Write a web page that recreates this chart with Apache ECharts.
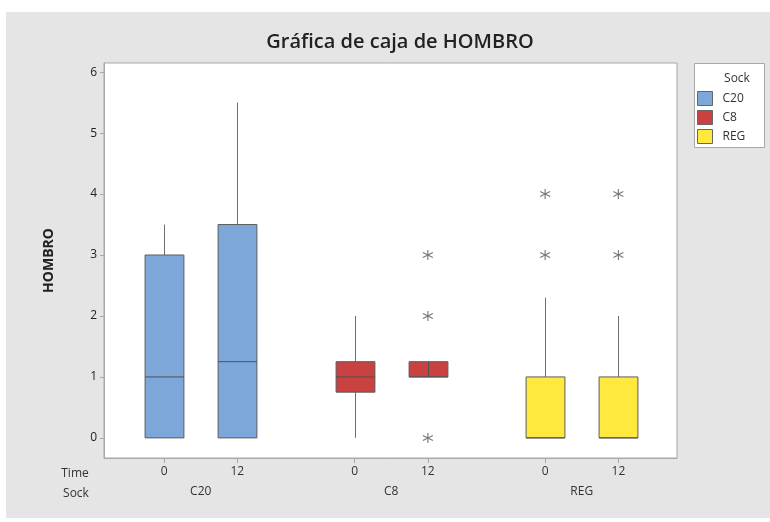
<!DOCTYPE html>
<html>
<head>
<meta charset="utf-8">
<title>Gráfica de caja de HOMBRO</title>
<script src="https://cdn.jsdelivr.net/npm/echarts@6/dist/echarts.min.js"></script>
<style>
  html, body { margin: 0; padding: 0; background: #fff; }
  #chart { width: 770px; height: 522px; }
</style>
</head>
<body>
<div id="chart"></div>
<script>
// datos
const socks = ["C20", "C8", "REG"];
const sockColors = ["#7da7d9", "#c94141", "#ffe93f"];
const timeLabels = ["0", "12", "0", "12", "0", "12"];
// posición de cada caja en el eje x (dos tiempos por grupo, hueco entre grupos)
const timePos = [0, 1, 2.6, 3.6, 5.2, 6.2];
const sockCenters = [0.5, 3.1, 5.7];
const yTicks = [0, 1, 2, 3, 4, 5, 6];

// [mín, Q1, mediana, Q3, máx] por tiempo (0, 12)
const c20Stats = [[0, 0, 1, 3, 3.5], [0, 0, 1.25, 3.5, 5.5]];
const c8Stats = [[0, 0.75, 1, 1.25, 2], [1, 1, 1, 1.25, 1.25]];
const regStats = [[0, 0, 0, 1, 2.3], [0, 0, 0, 1, 2]];
// valores atípicos por tiempo
const c20Outliers = [[], []];
const c8Outliers = [[], [0, 2, 3]];
const regOutliers = [[3, 4], [3, 4]];

const allStats = [c20Stats, c8Stats, regStats];
const allOutliers = [c20Outliers, c8Outliers, regOutliers];

const font = "'Open Sans', 'Noto Sans', sans-serif";
const boxWidth = 0.53;

const chart = echarts.init(document.getElementById("chart"));

// dibuja caja + bigotes
const renderBox = (params, api) => {
  const x = api.value(0);
  const lo = api.coord([x, api.value(1)]);
  const q1 = api.coord([x, api.value(2)]);
  const md = api.coord([x, api.value(3)]);
  const q3 = api.coord([x, api.value(4)]);
  const hi = api.coord([x, api.value(5)]);
  const w = api.size([boxWidth, 0])[0];
  const cx = Math.round(lo[0]) + 0.5;
  const line = (x1, y1, x2, y2, color) => ({
    type: "line",
    shape: { x1, y1, x2, y2 },
    style: { stroke: color, lineWidth: 1 },
  });
  const children = [
    line(cx, lo[1], cx, q1[1], "#6e6e6e"),
    line(cx, q3[1], cx, hi[1], "#6e6e6e"),
    {
      type: "rect",
      shape: { x: cx - w / 2, y: q3[1], width: w, height: q1[1] - q3[1] },
      style: { fill: api.visual("color"), stroke: "#5c5c5c", lineWidth: 1 },
    },
    line(cx - w / 2, md[1], cx + w / 2, md[1], "#505050"),
  ];
  // sin bigotes: Minitab dibuja la línea a través de la caja
  if (api.value(1) === api.value(2) && api.value(4) === api.value(5)) {
    children.push(line(cx, q3[1], cx, q1[1], "#505050"));
  }
  return { type: "group", children };
};

const boxSeries = socks.map((name, s) => ({
  name,
  type: "custom",
  renderItem: renderBox,
  itemStyle: { color: sockColors[s] },
  encode: { x: 0, y: [1, 2, 3, 4, 5] },
  data: allStats[s].map((st, t) => [timePos[s * 2 + t], ...st]),
  z: 3,
}));

const outlierData = [];
allOutliers.forEach((group, s) => {
  group.forEach((vals, t) => {
    vals.forEach((v) => outlierData.push([timePos[s * 2 + t], v]));
  });
});

const option = {
  animation: false,
  textStyle: { fontFamily: font },
  graphic: [
    {
      type: "rect",
      z: -10,
      shape: { x: 6, y: 12, width: 764, height: 506 },
      style: { fill: "#e5e5e5" },
    },
    {
      type: "rect",
      shape: { x: 694.5, y: 63.5, width: 70, height: 84 },
      style: { fill: "#fff", stroke: "#a8a8a8", lineWidth: 1 },
    },
    {
      type: "text",
      x: 737, y: 79,
      style: { text: "Sock", fill: "#333", font: "12px " + font, align: "center", verticalAlign: "middle" },
    },
    {
      type: "text",
      x: 75, y: 474,
      style: { text: "Time", fill: "#333", font: "12px " + font, align: "center", verticalAlign: "middle" },
    },
    {
      type: "text",
      x: 76, y: 494,
      style: { text: "Sock", fill: "#333", font: "12px " + font, align: "center", verticalAlign: "middle" },
    },
  ],
  title: {
    text: "Gráfica de caja de HOMBRO",
    left: 395,
    top: 27,
    textAlign: "center",
    textStyle: { fontSize: 20, fontWeight: 600, color: "#222", fontFamily: font },
  },
  legend: {
    data: socks,
    orient: "vertical",
    left: 697,
    top: 91,
    padding: 0,
    icon: "rect",
    itemWidth: 15,
    itemHeight: 14,
    itemGap: 4,
    selectedMode: false,
    itemStyle: { borderColor: "#666", borderWidth: 1 },
    textStyle: { fontSize: 12, color: "#333", padding: [0, 0, 0, 5] },
  },
  grid: {
    left: 104,
    right: 93,
    top: 63,
    bottom: 64,
    show: true,
    backgroundColor: "#fff",
    borderColor: "#a8a8a8",
    borderWidth: 1,
  },
  xAxis: [
    {
      type: "value",
      min: -0.82,
      max: 7.0,
      axisLine: { show: true, onZero: false, lineStyle: { color: "#a8a8a8" } },
      axisTick: { show: true, length: 5, customValues: timePos, lineStyle: { color: "#a8a8a8" } },
      axisLabel: {
        customValues: timePos,
        formatter: (v) => {
          let best = 0;
          timePos.forEach((p, i) => { if (Math.abs(p - v) < Math.abs(timePos[best] - v)) best = i; });
          return timeLabels[best];
        },
        color: "#333",
        fontSize: 12,
        margin: 8,
      },
      splitLine: { show: false },
    },
    {
      type: "value",
      position: "bottom",
      offset: 20,
      min: -0.82,
      max: 7.0,
      axisLine: { show: false, onZero: false },
      axisTick: { show: false },
      axisLabel: {
        customValues: sockCenters,
        formatter: (v) => {
          let best = 0;
          sockCenters.forEach((p, i) => { if (Math.abs(p - v) < Math.abs(sockCenters[best] - v)) best = i; });
          return socks[best];
        },
        color: "#333",
        fontSize: 12,
        margin: 8,
      },
      splitLine: { show: false },
    },
  ],
  yAxis: {
    type: "value",
    min: -0.33,
    max: 6.15,
    name: "HOMBRO",
    nameLocation: "middle",
    nameGap: 48,
    nameTextStyle: { fontSize: 14, fontWeight: "bold", color: "#222", fontFamily: font },
    axisLine: { show: true, onZero: false, lineStyle: { color: "#a8a8a8" } },
    axisTick: { show: true, length: 4, customValues: yTicks, lineStyle: { color: "#a8a8a8" } },
    axisLabel: { customValues: yTicks, color: "#222", fontSize: 12, margin: 7 },
    splitLine: { show: false },
  },
  series: [
    ...boxSeries,
    {
      name: "atípicos",
      type: "scatter",
      symbol: "path://M5,0 L5,10 M0.7,2.5 L9.3,7.5 M0.7,7.5 L9.3,2.5",
      symbolSize: 10,
      itemStyle: { color: "transparent", borderColor: "#555", borderWidth: 1.1 },
      data: outlierData,
      z: 4,
    },
  ],
};

chart.setOption(option);
</script>
</body>
</html>
